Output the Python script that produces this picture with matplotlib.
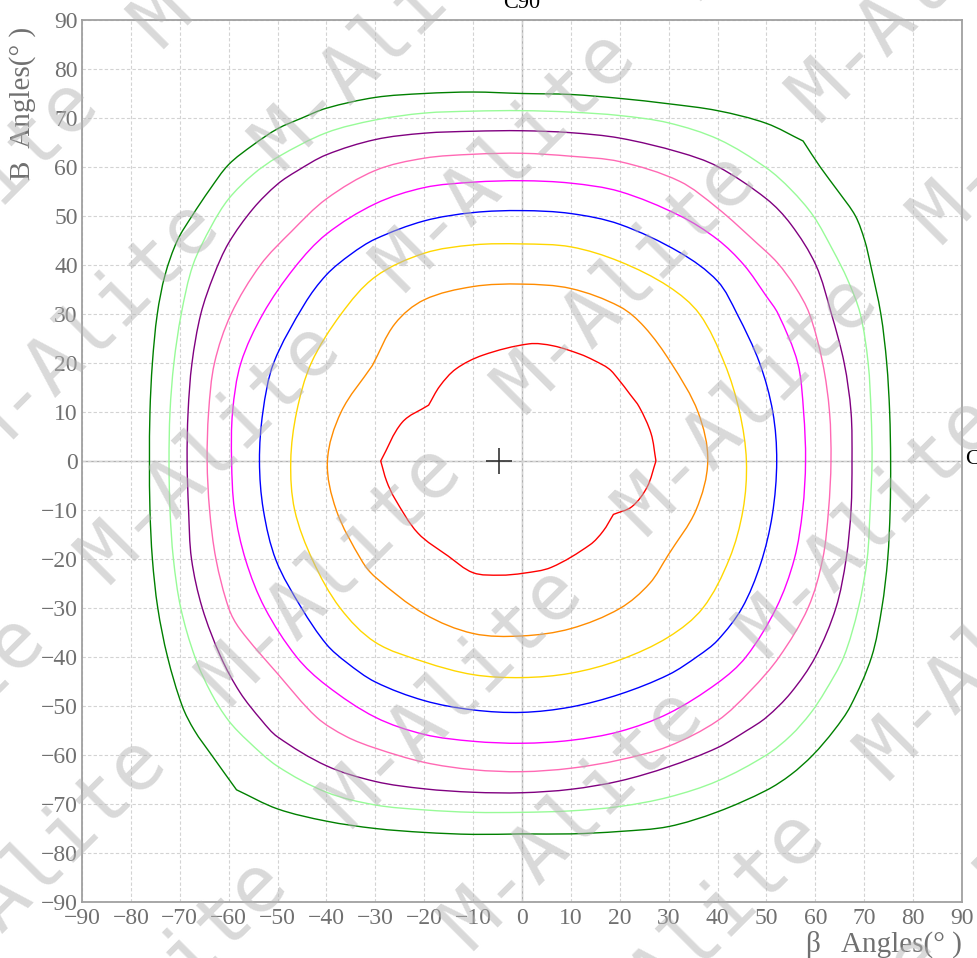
import numpy as np
import matplotlib
matplotlib.use("Agg")
import matplotlib.pyplot as plt
from matplotlib.path import Path
from matplotlib.patches import PathPatch

# ---------------- data (degrees) ----------------
ticks = list(range(-90, 91, 10))

green_x = [75.4, 75.2, 74.6, 73.4, 71.3, 70.1, 68.2, 64.7, 61.0, 57.5, 50, 40, 30, 20, 10, 0,
           -10, -20, -30, -40, -45, -50, -55, -60, -63.8, -67.5, -70.5, -73, -74.6, -75.6, -76.1, -76.2,
           -76.1, -75.6, -74.5, -72.5, -69.5, -67, -63.5, -58.4, -50, -40, -30, -20, -10, 0,
           10, 20, 30, 40, 50, 55, 59.5, 63.8, 67.2, 71.5, 73.6, 74.8, 75.3]
green_y = [0, 10, 20, 30, 40, 45, 50, 55, 60, 65.3, 68.9, 71.5, 72.9, 74.0, 74.8, 75.0,
           75.3, 75.0, 74.2, 72.0, 70, 67.8, 64.5, 60.5, 55.5, 50, 45, 38, 30, 20, 10, 0,
           -10, -20, -30, -40, -50, -55, -60, -67.1, -71.0, -73.5, -75.0, -75.8, -76.2, -76.1,
           -76.1, -75.6, -74.6, -71.6, -67.2, -64, -60, -55, -50, -40, -30, -20, -10]
green_kinks = [9, 39]

lgreen_x = [71.6, 71.4, 70.8, 69.2, 66.6, 63.6, 59.6, 55, 50, 40.3, 30, 20, 10, 0,
            -10, -20, -30, -40, -50, -55, -60, -63.5, -67.3, -69.7, -71.2, -72.0, -72.2,
            -72.0, -71.3, -69.8, -66.9, -63.5, -60, -56, -50, -40, -30, -20, -10, 0,
            10, 20, 30, 40, 50, 55, 59, 62, 65.8, 68.8, 70.6, 71.2]
lgreen_y = [0, 10, 20, 30, 37, 43, 50, 55.4, 59.8, 65.6, 69.0, 70.5, 71.2, 71.5,
            71.4, 71.0, 69.6, 67.0, 62.0, 58.5, 53.5, 48, 40, 30, 20, 10, 0,
            -10, -20, -30, -40, -47.5, -53, -57.2, -62.3, -67.6, -70.2, -71.2, -71.7, -71.7,
            -71.4, -70.5, -68.6, -65.3, -60, -56, -51.5, -47, -40, -30, -20, -10]

purple_x = [67.5, 67.3, 65.9, 63.3, 60.1, 55, 50, 40, 32.2, 20, 10, 0,
            -10, -20, -30, -40, -46, -50, -55, -60, -63, -65.7, -67.5, -68.3, -68.5,
            -68.2, -67.6, -65.4, -61.6, -57.7, -53.2, -50, -40, -30, -20, -10, 0,
            10, 20, 30, 40, 46, 50, 55, 60, 64.2, 66.3, 67.3]
purple_y = [0, 10, 20, 30, 40, 48.3, 53.5, 60.1, 63.0, 65.9, 67.0, 67.4,
            67.3, 66.9, 65.6, 62.5, 59.2, 56.5, 51.5, 44.5, 38, 30, 20, 10, 0,
            -10, -20, -30, -40, -47.2, -53, -56.3, -62.2, -65.4, -66.9, -67.6, -67.7,
            -67.0, -65.3, -62.4, -58.5, -55, -52.3, -47.3, -40, -30, -20, -10]

pink_x = [63.2, 62.9, 61.5, 58.8, 55.9, 52.2, 48, 40, 32.2, 20, 10, 0,
          -10, -20, -30, -40, -47.2, -53.5, -59.5, -62.9, -64.1, -64.4,
          -63.9, -62.6, -60, -57.7, -50, -42, -36, -30, -20, -10, 0,
          10, 20, 30, 40, 46.8, 52.6, 58.5, 61.5, 62.7]
pink_y = [0, 10, 20, 30, 35.5, 40.5, 44.5, 51.6, 57.1, 61.1, 62.2, 62.8,
          62.6, 61.8, 59.3, 53.5, 46.8, 40, 30, 20, 10, 0,
          -10, -20, -30, -34.3, -43.4, -52.3, -56.2, -58.6, -61.5, -63.0, -63.4,
          -62.7, -61.0, -58.2, -53.0, -46.8, -40, -30, -20, -10]

magenta_x = [58.0, 57.6, 56.4, 52.4, 50, 45.4, 40, 32.2, 20, 10, 0,
             -10, -20, -30, -40, -46.5, -53, -57.5, -59.2, -59.4,
             -58.8, -56.5, -52.6, -46.1, -40, -30, -20, -10, 0,
             10, 20, 30, 40, 45.8, 52, 55.7, 57.4]
magenta_y = [0, 10, 20, 30, 33.6, 40, 45.2, 50.1, 55.0, 56.7, 57.2,
             56.9, 55.8, 52.5, 46.3, 39.5, 30, 20, 10, 0,
             -10, -20.3, -30, -40, -45.8, -52.3, -55.8, -57.2, -57.6,
             -57.0, -55.2, -51.5, -45.3, -40, -30, -20, -10]

blue_x = [52.1, 51.3, 48.6, 44.0, 40, 32.2, 20, 10, 0,
          -10, -20, -30, -35, -40, -44.5, -50.8, -53.0, -53.7,
          -52.9, -50.3, -45.1, -40, -35.9, -30, -20, -10, 0,
          10, 20, 30, 36, 40, 45, 48.8, 51.2]
blue_y = [0, 10, 20, 30, 36.7, 42.6, 48.3, 50.5, 51.1,
          50.7, 49.0, 45.3, 42.2, 38.0, 32, 20, 10, 0,
          -10, -20.3, -30, -37.4, -41.1, -45.1, -48.9, -50.8, -51.3,
          -50.2, -47.6, -43.6, -39.8, -36.6, -30, -21, -11]

gold_x = [45.9, 44.5, 41.4, 36.3, 30, 20, 10, 0,
          -10, -20, -30, -37.0, -43.1, -46.1, -47.3,
          -46.5, -42.8, -37.2, -30, -20, -10, 0,
          10, 20, 30, 37.0, 42.4, 45.2]
gold_y = [0, 10, 20, 30, 35.6, 40.7, 43.7, 44.3,
          44.1, 42.4, 37.6, 30, 20, 10, 0,
          -10, -20.3, -30, -37.0, -41.0, -43.6, -44.2,
          -43.3, -40.6, -35.9, -30, -20, -10]

orange_x = [38.0, 36.0, 30.5, 25, 20, 10, 0,
            -10, -20, -26, -30.6, -37.0, -39.8,
            -38.0, -32.8, -30, -20, -10, 0,
            10, 20, 26.1, 29.9, 35.6]
orange_y = [0, 10, 20, 27.4, 31.5, 35.2, 36.1,
            35.6, 32.9, 28, 19.5, 10, 0,
            -10, -20.3, -23.7, -31.2, -35.2, -35.7,
            -34.2, -30.1, -25, -19.2, -10]
orange_kinks = [10, 22]

red_x = [27.4, 26.4, 24.0, 22.1, 19.7, 17.8, 14.6, 11.9, 6.4, 1.4, -8.0, -13.5, -16.8, -19.1,
         -24.5, -28.9, -27.7, -26.0, -21.3, -15.1, -10.0, -4.5, 0.3, 6.0, 13.9, 16.6, 18.7,
         22.5, 25.6]
red_y = [0, 5.6, 11.0, 13.6, 16.7, 18.8, 20.6, 21.8, 23.5, 23.9, 21.6, 18.8, 15.3, 11.4,
         7.9, 0, -4.1, -7.7, -14.7, -19.4, -22.8, -23.3, -22.9, -21.7, -17.1, -14.3, -10.9,
         -9.3, -5.3]
red_kinks = [0, 13, 15, 26]

center_x = [-4.8]
center_y = [0]

curves = [
    (green_x, green_y, green_kinks, "#008000"),
    (lgreen_x, lgreen_y, [], "#98FB98"),
    (purple_x, purple_y, [], "#800080"),
    (pink_x, pink_y, [], "#FF69B4"),
    (magenta_x, magenta_y, [], "#FF00FF"),
    (blue_x, blue_y, [], "#0000FF"),
    (gold_x, gold_y, [], "#FFD700"),
    (orange_x, orange_y, orange_kinks, "#FF8C00"),
    (red_x, red_y, red_kinks, "#FF0000"),
]


def smooth_closed_path(xs, ys, kinks):
    """Closed cubic Bezier path passing through every read point."""
    P = np.column_stack([xs, ys]).astype(float)
    n = len(P)
    T = np.zeros_like(P)
    for i in range(n):
        d = P[(i + 1) % n] - P[i - 1]
        T[i] = d / np.hypot(*d)
    verts = [P[0]]
    codes = [Path.MOVETO]
    for i in range(n):
        a, b = P[i], P[(i + 1) % n]
        seg = b - a
        L = np.hypot(*seg)
        u = seg / L
        ta = u if i in kinks else T[i]
        tb = u if ((i + 1) % n) in kinks else T[(i + 1) % n]
        verts += [a + ta * L / 3, b - tb * L / 3, b]
        codes += [Path.CURVE4] * 3
    return Path(verts, codes)


# ---------------- figure ----------------
W, H = 977, 958
fig = plt.figure(figsize=(W / 100, H / 100), dpi=100)
fig.patch.set_facecolor("white")
ax = fig.add_axes([82 / W, 1 - 902 / H, 880 / W, 882 / H])

serif = ["Liberation Serif", "DejaVu Serif"]

for xs, ys, kinks, col in curves:
    path = smooth_closed_path(xs, ys, kinks)
    ax.add_patch(PathPatch(path, fill=False, edgecolor=col, lw=1.0, zorder=3))

ax.plot(center_x, center_y, marker="+", ms=19, mew=1.2, color="#333333", ls="none", zorder=4)

ax.set_xlim(-90, 90)
ax.set_ylim(-90, 90)
ax.set_xticks(ticks)
ax.set_yticks(ticks)
ax.grid(True, ls=(0, (3, 2)), color="#d3d3d3", lw=0.8, zorder=0)
ax.axhline(0, color="#b0b0b0", lw=1.0, zorder=1)
ax.axvline(0, color="#b0b0b0", lw=1.0, zorder=1)
ax.tick_params(length=0, labelsize=17, labelcolor="#707070")
ax.tick_params(axis="x", pad=4)
ax.tick_params(axis="y", pad=3)
for lab in ax.get_xticklabels() + ax.get_yticklabels():
    lab.set_fontfamily(serif)
for sp in ax.spines.values():
    sp.set_color("#a0a0a0")
    sp.set_linewidth(1.3)

# axis labels and direction marks
fig.text(23 / W, 1 - 103 / H, "B  Angles(° )", rotation=90, ha="center", va="center",
         fontsize=21, color="#707070", family=serif)
fig.text(962 / W, 1 - 944 / H, "β   Angles(° )", ha="right", va="center",
         fontsize=21, color="#707070", family=serif)
fig.text(522 / W, 1 - 3 / H, "C90", ha="center", va="center", fontsize=16,
         color="black", family=serif)
fig.text(965 / W, 1 - 460 / H, "C0", ha="left", va="center", fontsize=16,
         color="black", family=serif)

# watermark lattice (pixel positions of string centres)
cx0, cy0 = 626.5, 281.5
a_vec = (295, -292)
b_vec = (121, 122)
for m in range(-8, 9):
    for n in range(-12, 12):
        px = cx0 + m * a_vec[0] + n * b_vec[0]
        py = cy0 + m * a_vec[1] + n * b_vec[1]
        if -250 < px < W + 250 and -250 < py < H + 250:
            fig.text(px / W, 1 - py / H, "M-Alite", rotation=45, rotation_mode="anchor",
                     ha="center", va="center", fontsize=57, family="DejaVu Sans Mono",
                     color="#b4b4b4", alpha=0.5, zorder=10)

fig.savefig("out.png", dpi=100)
